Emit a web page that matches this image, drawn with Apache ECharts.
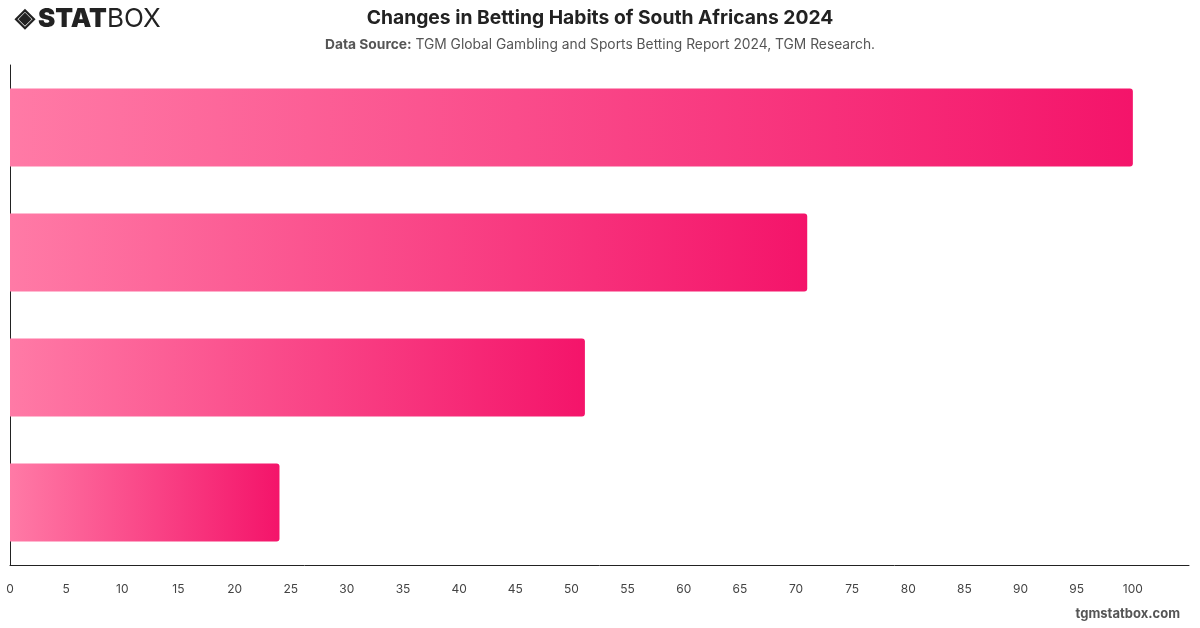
<!DOCTYPE html>
<html>
<head>
<meta charset="utf-8">
<script src="https://cdn.jsdelivr.net/npm/echarts@6/dist/echarts.min.js"></script>
<style>
  html, body { margin: 0; padding: 0; background: #fff; }
  #main { width: 1200px; height: 628px; }
</style>
</head>
<body>
<div id="main"></div>
<script>
// data (top to bottom)
var categories = ['Habit A', 'Habit B', 'Habit C', 'Habit D'];
var values = [100, 71, 51.2, 24];
var xTicks = { min: 0, max: 105, step: 5 };

var chart = echarts.init(document.getElementById('main'));
var font = 'Inter, "Noto Sans", sans-serif';

var option = {
    animation: false,
    title: [{
        text: 'Changes in Betting Habits of South Africans 2024',
        left: 'center',
        top: 4,
        textStyle: { fontFamily: font, fontSize: 19.3, fontWeight: 'bold', color: '#222' }
    }, {
        text: '{b|Data Source:} TGM Global Gambling and Sports Betting Report 2024, TGM Research.',
        left: 'center',
        top: 33,
        textStyle: {
            fontFamily: font, fontSize: 13.8, fontWeight: 'normal', color: '#555',
            rich: { b: { fontFamily: font, fontSize: 13.8, fontWeight: 'bold', color: '#555' } }
        }
    }],
    graphic: [{
        type: 'text',
        left: 15,
        top: 6,
        style: {
            text: '{i|◈}{s|STAT}{o|BOX}',
            rich: {
                i: { fontSize: 26, fontWeight: 'bold', fill: '#222', padding: [0, 3, 0, 0] },
                s: { fontFamily: font, fontSize: 26, fontWeight: 900, fill: '#222' },
                o: { fontFamily: font, fontSize: 26, fontWeight: 'normal', fill: '#222' }
            }
        }
    }, {
        type: 'text',
        right: 20,
        top: 608,
        style: { text: 'tgmstatbox.com', fontFamily: font, fontSize: 13, fontWeight: 'bold', fill: '#555' }
    }],
    grid: { left: 10, right: 11, top: 65, bottom: 63, containLabel: false },
    xAxis: {
        type: 'value',
        min: xTicks.min,
        max: xTicks.max,
        interval: xTicks.step,
        splitLine: { show: false },
        axisLine: { show: true, lineStyle: { color: '#222', width: 1 } },
        axisTick: { show: false },
        axisLabel: {
            showMaxLabel: false,
            margin: 18,
            fontFamily: font, fontSize: 12, color: '#444'
        }
    },
    yAxis: {
        type: 'category',
        data: categories,
        inverse: true,
        axisLine: { show: true, lineStyle: { color: '#222', width: 1 } },
        axisTick: { show: false },
        axisLabel: { show: false }
    },
    series: [{
        type: 'bar',
        data: values,
        barWidth: 78,
        itemStyle: {
            borderRadius: [0, 3, 3, 0],
            color: new echarts.graphic.LinearGradient(0, 0, 1, 0, [
                { offset: 0, color: '#ff7aa6' },
                { offset: 1, color: '#f4146a' }
            ])
        }
    }]
};

chart.setOption(option);
</script>
</body>
</html>
